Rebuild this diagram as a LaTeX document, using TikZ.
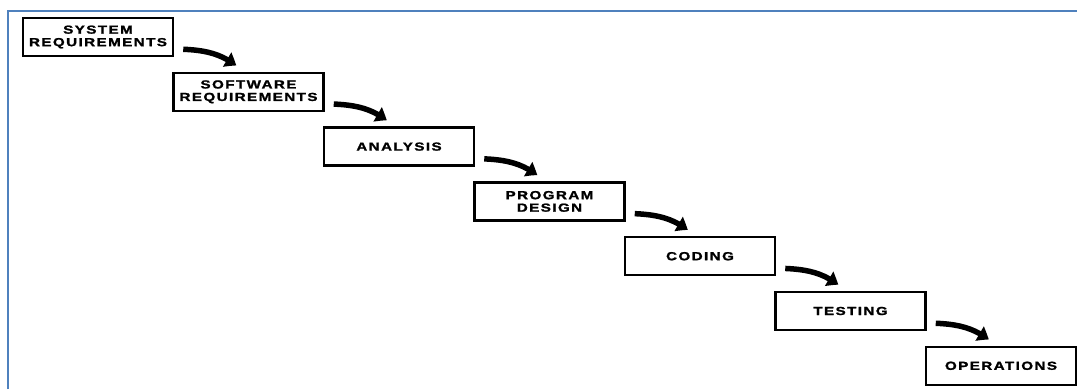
\documentclass[tikz,border=0pt]{standalone}
\usepackage{fontspec}
\setmainfont{Liberation Sans}[FakeStretch=1.3,LetterSpace=12,BoldFeatures={FakeBold=1.5}]
\usetikzlibrary{arrows.meta,calc,bending}
\definecolor{frameblue}{HTML}{4F81BD}
\tikzset{
  stagebox/.style={draw=black,line width=2.5pt,minimum width=150pt,minimum height=38pt,
    inner sep=0pt,align=center,font=\fontsize{11.7}{12.5}\selectfont\bfseries},
  flowarrow/.style={line width=5.5pt,-{Triangle[width=16pt,length=11pt,bend]}},
  frameline/.style={draw=frameblue,line width=2.2pt}
}
\begin{document}
\begin{tikzpicture}[x=1pt,y=1pt]
\useasboundingbox (0,0) rectangle (1077,-389);
\draw[frameline] (8,-389) -- (8,-11) -- (1077,-11);
\node[stagebox] (s1) at (98,-37) {SYSTEM\\REQUIREMENTS};
\node[stagebox] (s2) at (248.5,-91.8) {SOFTWARE\\REQUIREMENTS};
\node[stagebox] (s3) at (399,-146.6) {ANALYSIS};
\node[stagebox] (s4) at (549.5,-201.4) {PROGRAM\\DESIGN};
\node[stagebox] (s5) at (700,-256.2) {CODING};
\node[stagebox] (s6) at (850.5,-311) {TESTING};
\node[stagebox] (s7) at (1001,-365.8) {OPERATIONS};
\foreach \a/\b in {s1/s2,s2/s3,s3/s4,s4/s5,s5/s6,s6/s7}{
  \draw[flowarrow] ([xshift=9pt,yshift=8pt]\a.south east) .. controls +(22,-1) and +(-16,12) .. ([xshift=64pt,yshift=6pt]\b.north west);
}
\end{tikzpicture}
\end{document}
